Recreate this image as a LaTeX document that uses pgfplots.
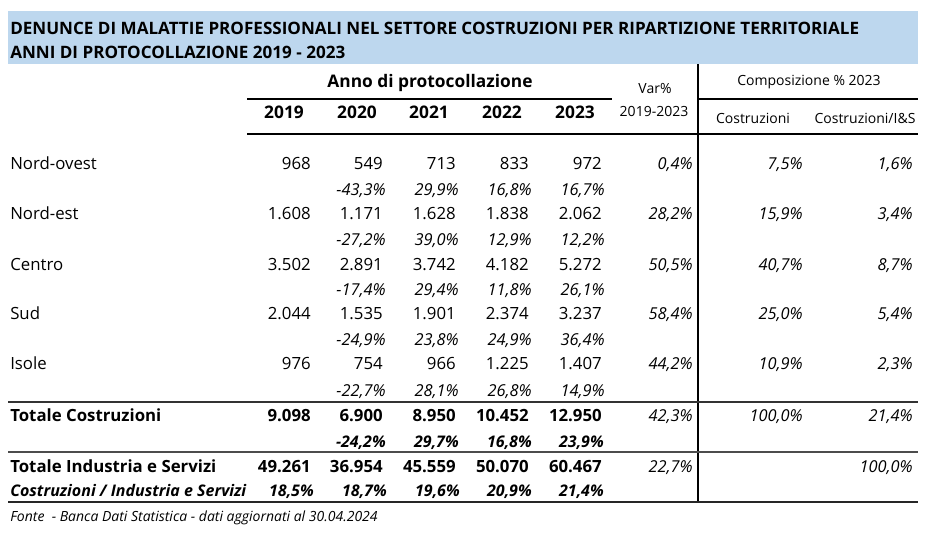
\documentclass[border=0pt]{standalone}
\usepackage{pgfplots}
\pgfplotsset{compat=1.18}
\usepackage{pgfplotstable}
\usepackage{fontspec}
\setmainfont{Open Sans}
\definecolor{band}{HTML}{BDD7EE}
\newcommand\fbody{\fontsize{12.6pt}{15pt}\selectfont}
\newcommand\fsmall{\fontsize{10.5pt}{13pt}\selectfont}
\newcommand\fpct{\fontsize{12.3pt}{15pt}\selectfont}
\newcommand\fbpct{\fontsize{12pt}{15pt}\selectfont}
\newcommand\ftitle{\fontsize{12.8pt}{15pt}\selectfont}
\newcommand\fhead{\fontsize{13pt}{15pt}\selectfont}

% regional rows: y = row centre (px), y2 = centre of the percentage row below
\pgfplotstableread{
name y y2 c2019 c2020 c2021 c2022 c2023 p2020 p2021 p2022 p2023 var comp cis
Nord-ovest 163 189 968 549 713 833 972 -43.3 29.9 16.8 16.7 0.4 7.5 1.6
Nord-est 213 239 1608 1171 1628 1838 2062 -27.2 39.0 12.9 12.2 28.2 15.9 3.4
Centro 264 289 3502 2891 3742 4182 5272 -17.4 29.4 11.8 26.1 50.5 40.7 8.7
Sud 313 339 2044 1535 1901 2374 3237 -24.9 23.8 24.9 36.4 58.4 25.0 5.4
Isole 363 390 976 754 966 1225 1407 -22.7 28.1 26.8 14.9 44.2 10.9 2.3
}\regions

\pgfplotstableread{
y y2 c2019 c2020 c2021 c2022 c2023 p2020 p2021 p2022 p2023 var comp cis
415 441 9098 6900 8950 10452 12950 -24.2 29.7 16.8 23.9 42.3 100.0 21.4
}\totcostr

\pgfplotstableread{
y y2 c2019 c2020 c2021 c2022 c2023 r2019 r2020 r2021 r2022 r2023 var cis
466 490 49261 36954 45559 50070 60467 18.5 18.7 19.6 20.9 21.4 22.7 100.0
}\totind

\pgfplotsset{
  cellbase/.style={draw=none, mark=none, forget plot, point meta=explicit,
    every node near coord/.append style={anchor=east, inner sep=0pt,
      text height=9pt, text depth=0pt, font=#1}},
  intcell/.style={cellbase={#1},
    nodes near coords={\pgfmathprintnumber[fixed, precision=0, 1000 sep={.}, assume math mode=true]{\pgfplotspointmeta}}},
  pctcell/.style={cellbase={#1},
    nodes near coords={\pgfmathprintnumber[fixed, fixed zerofill, precision=1, use comma, assume math mode=true]{\pgfplotspointmeta}\%}},
  namecell/.style={draw=none, mark=none, forget plot, point meta=explicit symbolic,
    nodes near coords,
    every node near coord/.append style={anchor=west, inner sep=0pt,
      text height=9pt, text depth=0pt, font=#1}},
}

\begin{document}
\begin{tikzpicture}
\begin{axis}[
  width=696pt, height=405pt, scale only axis,
  xmin=0, xmax=928, ymin=0, ymax=540, y dir=reverse,
  hide axis, clip=false,
]
% canvas
\path (axis cs:0,0) rectangle (axis cs:928,540);
% title band
\fill[band] (axis cs:8,11) rectangle (axis cs:918,64);
\node[anchor=west, inner sep=0pt, text height=9pt, text depth=0pt] at (axis cs:10,28)
  {\ftitle\bfseries DENUNCE DI MALATTIE PROFESSIONALI NEL SETTORE COSTRUZIONI PER RIPARTIZIONE TERRITORIALE};
\node[anchor=west, inner sep=0pt, text height=9pt, text depth=0pt] at (axis cs:10,52)
  {\ftitle\bfseries ANNI DI PROTOCOLLAZIONE 2019 - 2023};

% header
\node[inner sep=0pt, text height=9pt, text depth=0pt] at (axis cs:430,81) {\fhead\bfseries Anno di protocollazione};
\node[inner sep=0pt, text height=9pt, text depth=0pt] at (axis cs:284,112) {\fhead\bfseries 2019};
\node[inner sep=0pt, text height=9pt, text depth=0pt] at (axis cs:357,112) {\fhead\bfseries 2020};
\node[inner sep=0pt, text height=9pt, text depth=0pt] at (axis cs:429,112) {\fhead\bfseries 2021};
\node[inner sep=0pt, text height=9pt, text depth=0pt] at (axis cs:502,112) {\fhead\bfseries 2022};
\node[inner sep=0pt, text height=9pt, text depth=0pt] at (axis cs:575,112) {\fhead\bfseries 2023};
\node[inner sep=0pt] at (axis cs:655,88) {\fsmall Var\%};
\node[inner sep=0pt] at (axis cs:654,111) {\fsmall 2019-2023};
\node[inner sep=0pt] at (axis cs:809,82) {\fsmall Composizione \% 2023};
\node[inner sep=0pt] at (axis cs:753,118) {\fsmall Costruzioni};
\node[inner sep=0pt] at (axis cs:865,118) {\fsmall Costruzioni/I\&S};

% rules
\draw[line width=0.9pt] (axis cs:247,99) -- (axis cs:612,99);
\draw[line width=0.9pt] (axis cs:698,99) -- (axis cs:918,99);
\draw[line width=0.9pt] (axis cs:247,134) -- (axis cs:918,134);
\draw[line width=0.8pt] (axis cs:698,64) -- (axis cs:698,502);
\draw[line width=1.0pt, black!80] (axis cs:8,402) -- (axis cs:918,402);
\draw[line width=1.3pt, black!70] (axis cs:8,452) -- (axis cs:918,452);
\draw[line width=1.0pt, black!85] (axis cs:8,502) -- (axis cs:918,502);

% regional rows
\addplot[namecell=\fbody] table[x expr=10, y=y, meta=name] {\regions};
\addplot[intcell=\fbody] table[x expr=311, y=y, meta=c2019] {\regions};
\addplot[intcell=\fbody] table[x expr=383, y=y, meta=c2020] {\regions};
\addplot[intcell=\fbody] table[x expr=456, y=y, meta=c2021] {\regions};
\addplot[intcell=\fbody] table[x expr=529, y=y, meta=c2022] {\regions};
\addplot[intcell=\fbody] table[x expr=602, y=y, meta=c2023] {\regions};
\addplot[pctcell=\fpct\itshape] table[x expr=386, y=y2, meta=p2020] {\regions};
\addplot[pctcell=\fpct\itshape] table[x expr=459, y=y2, meta=p2021] {\regions};
\addplot[pctcell=\fpct\itshape] table[x expr=532, y=y2, meta=p2022] {\regions};
\addplot[pctcell=\fpct\itshape] table[x expr=605, y=y2, meta=p2023] {\regions};
\addplot[pctcell=\fpct\itshape] table[x expr=693, y=y, meta=var] {\regions};
\addplot[pctcell=\fpct\itshape] table[x expr=803, y=y, meta=comp] {\regions};
\addplot[pctcell=\fpct\itshape] table[x expr=913, y=y, meta=cis] {\regions};

% Totale Costruzioni
\node[anchor=west, inner sep=0pt, text height=9pt, text depth=0pt] at (axis cs:10,415) {\fbody\bfseries Totale Costruzioni};
\addplot[intcell=\fbody\bfseries] table[x expr=311, y=y, meta=c2019] {\totcostr};
\addplot[intcell=\fbody\bfseries] table[x expr=383, y=y, meta=c2020] {\totcostr};
\addplot[intcell=\fbody\bfseries] table[x expr=456, y=y, meta=c2021] {\totcostr};
\addplot[intcell=\fbody\bfseries] table[x expr=529, y=y, meta=c2022] {\totcostr};
\addplot[intcell=\fbody\bfseries] table[x expr=602, y=y, meta=c2023] {\totcostr};
\addplot[pctcell=\fbpct\bfseries\itshape] table[x expr=386, y=y2, meta=p2020] {\totcostr};
\addplot[pctcell=\fbpct\bfseries\itshape] table[x expr=459, y=y2, meta=p2021] {\totcostr};
\addplot[pctcell=\fbpct\bfseries\itshape] table[x expr=532, y=y2, meta=p2022] {\totcostr};
\addplot[pctcell=\fbpct\bfseries\itshape] table[x expr=604, y=y2, meta=p2023] {\totcostr};
\addplot[pctcell=\fpct\itshape] table[x expr=693, y=y, meta=var] {\totcostr};
\addplot[pctcell=\fpct\itshape] table[x expr=803, y=y, meta=comp] {\totcostr};
\addplot[pctcell=\fpct\itshape] table[x expr=913, y=y, meta=cis] {\totcostr};

% Totale Industria e Servizi
\node[anchor=west, inner sep=0pt, text height=9pt, text depth=0pt] at (axis cs:10,466) {\fbody\bfseries Totale Industria e Servizi};
\node[anchor=west, inner sep=0pt, text height=9pt, text depth=0pt] at (axis cs:10,490) {\fontsize{12pt}{15pt}\selectfont\bfseries\itshape Costruzioni / Industria e Servizi};
\addplot[intcell=\fbody\bfseries] table[x expr=311, y=y, meta=c2019] {\totind};
\addplot[intcell=\fbody\bfseries] table[x expr=383, y=y, meta=c2020] {\totind};
\addplot[intcell=\fbody\bfseries] table[x expr=456, y=y, meta=c2021] {\totind};
\addplot[intcell=\fbody\bfseries] table[x expr=529, y=y, meta=c2022] {\totind};
\addplot[intcell=\fbody\bfseries] table[x expr=602, y=y, meta=c2023] {\totind};
\addplot[pctcell=\fbpct\bfseries\itshape] table[x expr=314, y=y2, meta=r2019] {\totind};
\addplot[pctcell=\fbpct\bfseries\itshape] table[x expr=387, y=y2, meta=r2020] {\totind};
\addplot[pctcell=\fbpct\bfseries\itshape] table[x expr=460, y=y2, meta=r2021] {\totind};
\addplot[pctcell=\fbpct\bfseries\itshape] table[x expr=532, y=y2, meta=r2022] {\totind};
\addplot[pctcell=\fbpct\bfseries\itshape] table[x expr=604, y=y2, meta=r2023] {\totind};
\addplot[pctcell=\fpct\itshape] table[x expr=693, y=y, meta=var] {\totind};
\addplot[pctcell=\fpct\itshape] table[x expr=913, y=y, meta=cis] {\totind};

% source
\node[anchor=west, inner sep=0pt] at (axis cs:10,518) {\fsmall\itshape Fonte\ \ - Banca Dati Statistica - dati aggiornati al 30.04.2024};
\end{axis}
\end{tikzpicture}
\end{document}
